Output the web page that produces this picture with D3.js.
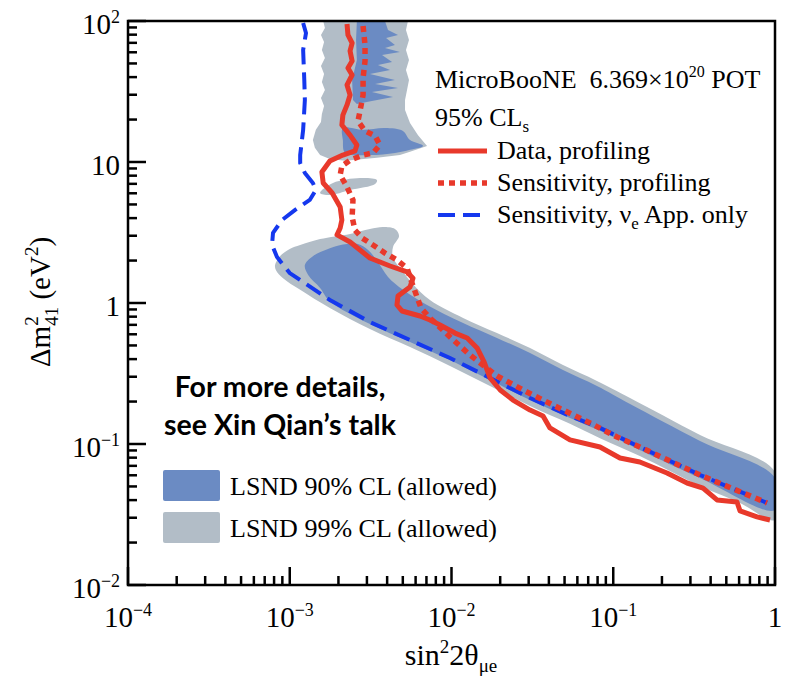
<!DOCTYPE html>
<html>
<head>
<meta charset="utf-8">
<script src="https://cdn.jsdelivr.net/npm/d3@7"></script>
<style>
  body { margin: 0; background: #fff; }
  svg text { font-family: "Liberation Serif", "Times New Roman", serif; fill: #000; }
</style>
</head>
<body>
<svg id="chart" width="790" height="678"></svg>
<script>
// Contours as [sin²2θμe, Δm²41 (eV²)]

// LSND 99% CL allowed region: main band, high-Δm² column and small island
const lsnd99Band = [
  [8.11e-4, 1.86], [8.71e-4, 2.15], [1.00e-3, 2.42], [1.16e-3, 2.58], [1.54e-3, 2.84],
  [2.36e-3, 3.09], [3.13e-3, 3.35], [3.77e-3, 3.46], [4.47e-3, 3.35], [4.74e-3, 2.99],
  [4.35e-3, 2.50], [4.35e-3, 2.09], [4.94e-3, 1.71], [5.78e-3, 1.36], [7.36e-3, 1.05],
  [1.18e-2, 0.783], [1.91e-2, 0.612], [3.06e-2, 0.480], [4.89e-2, 0.363], [7.93e-2, 0.280],
  [0.127, 0.212], [0.344, 0.116], [1.0, 0.0633],
  [1.0, 0.0289], [0.608, 0.0382], [0.344, 0.0504], [0.146, 0.0822], [8.28e-2, 0.110],
  [5.40e-2, 0.139], [3.06e-2, 0.186], [1.73e-2, 0.258], [9.79e-3, 0.358], [5.54e-3, 0.487],
  [3.13e-3, 0.654], [1.77e-3, 0.921], [1.16e-3, 1.24], [9.09e-4, 1.50], [8.22e-4, 1.71]
];
const lsnd99Top = [
  [1.61e-3, 100], [1.65e-3, 89.2], [1.56e-3, 79.6], [1.63e-3, 71.0], [1.58e-3, 62.3],
  [1.65e-3, 54.7], [1.56e-3, 48.0], [1.63e-3, 42.1], [1.58e-3, 36.9], [1.65e-3, 32.4],
  [1.56e-3, 28.4], [1.63e-3, 25.0], [1.58e-3, 21.9], [1.56e-3, 19.2], [1.45e-3, 16.9],
  [1.39e-3, 14.3], [1.43e-3, 12.6], [1.54e-3, 11.2], [1.77e-3, 10.5], [2.20e-3, 10.2],
  [3.46e-3, 10.7], [4.80e-3, 11.2], [5.54e-3, 11.8], [7.06e-3, 13.0], [6.21e-3, 15.5],
  [5.54e-3, 18.9], [5.16e-3, 23.4], [5.16e-3, 27.5], [5.31e-3, 32.4], [5.46e-3, 38.2],
  [5.23e-3, 44.9], [5.46e-3, 52.9], [5.23e-3, 62.3], [5.46e-3, 73.3], [5.23e-3, 86.3],
  [5.38e-3, 100]
];
const lsnd99Island = [
  [1.54e-3, 6.03], [1.85e-3, 7.10], [2.72e-3, 7.70], [3.46e-3, 7.45],
  [3.37e-3, 6.98], [2.36e-3, 6.33], [1.77e-3, 5.83]
];

// LSND 90% CL allowed region: main band, striped column and lobe near 10–17 eV²
const lsnd90Band = [
  [1.24e-3, 1.86], [1.39e-3, 2.15], [1.77e-3, 2.45], [2.26e-3, 2.62], [2.64e-3, 2.62],
  [3.05e-3, 2.38], [3.51e-3, 1.95], [4.05e-3, 1.53], [5.01e-3, 1.24], [7.06e-3, 0.968],
  [1.18e-2, 0.721], [1.91e-2, 0.565], [3.06e-2, 0.442], [4.89e-2, 0.335], [7.93e-2, 0.258],
  [0.127, 0.192], [0.344, 0.105], [1.0, 0.0574],
  [1.0, 0.0340], [0.344, 0.0574], [0.146, 0.0907], [8.28e-2, 0.124], [5.40e-2, 0.153],
  [3.06e-2, 0.205], [1.73e-2, 0.284], [9.79e-3, 0.394], [5.54e-3, 0.529], [3.13e-3, 0.710],
  [1.77e-3, 1.03], [1.54e-3, 1.28], [1.30e-3, 1.58]
];
const lsnd90Column = [
  [2.60e-3, 100], [2.57e-3, 73.3], [2.60e-3, 52.9], [2.43e-3, 38.2], [2.46e-3, 27.5],
  [2.60e-3, 25.8], [3.22e-3, 27.1], [4.35e-3, 28.9], [3.22e-3, 31.4], [4.67e-3, 33.5],
  [3.37e-3, 35.7], [4.47e-3, 38.2], [3.13e-3, 42.1], [4.17e-3, 44.9], [3.51e-3, 48.7],
  [4.29e-3, 51.2], [3.72e-3, 57.4], [4.80e-3, 60.3], [3.88e-3, 64.4], [4.47e-3, 67.6],
  [3.94e-3, 75.8], [4.67e-3, 79.6], [4.05e-3, 86.3], [3.88e-3, 100]
];
const lsnd90Lobe = [
  [2.13e-3, 17.4], [2.84e-3, 16.9], [3.88e-3, 17.4], [5.01e-3, 16.6], [5.54e-3, 14.3],
  [6.67e-3, 13.0], [5.54e-3, 12.2], [4.47e-3, 11.6], [3.13e-3, 11.2], [2.20e-3, 11.6],
  [2.13e-3, 14.3]
];

// MicroBooNE 95% CLs: data with profiling
const dataProfiling = [
  [2.26e-3, 95.2], [2.29e-3, 79.6], [2.43e-3, 69.8], [2.36e-3, 61.3], [2.43e-3, 52.0],
  [2.29e-3, 46.4], [2.43e-3, 41.4], [2.26e-3, 35.2], [2.36e-3, 29.9], [2.26e-3, 25.4],
  [2.13e-3, 21.5], [2.10e-3, 18.3], [2.36e-3, 15.5], [2.60e-3, 13.2], [2.53e-3, 11.97],
  [2.13e-3, 11.2], [1.77e-3, 10.16], [1.58e-3, 8.49], [1.61e-3, 7.10], [1.83e-3, 6.03],
  [2.05e-3, 4.80], [2.10e-3, 3.88], [2.05e-3, 3.40], [1.96e-3, 3.04], [2.36e-3, 2.71],
  [3.13e-3, 2.085], [4.17e-3, 1.83], [5.31e-3, 1.66], [5.78e-3, 1.50], [5.54e-3, 1.30],
  [4.67e-3, 1.12], [4.60e-3, 0.968], [4.94e-3, 0.878], [6.39e-3, 0.809], [7.36e-3, 0.758],
  [8.49e-3, 0.698], [1.05e-2, 0.612], [1.25e-2, 0.565], [1.44e-2, 0.480], [1.59e-2, 0.382],
  [1.73e-2, 0.294], [2.00e-2, 0.2415], [2.40e-2, 0.205], [3.06e-2, 0.174], [3.68e-2, 0.158],
  [4.06e-2, 0.130], [5.40e-2, 0.107], [8.28e-2, 0.0952], [0.110, 0.0796], [0.146, 0.0745],
  [0.215, 0.0623], [0.286, 0.0529], [0.359, 0.0487], [0.438, 0.0401], [0.582, 0.0388],
  [0.608, 0.0335], [0.774, 0.0304], [0.931, 0.0289]
];

// Sensitivity with profiling
const sensProfiling = [
  [2.84e-3, 92.1], [2.92e-3, 67.6], [2.92e-3, 52.0], [2.84e-3, 39.4], [2.84e-3, 29.9],
  [2.72e-3, 23.0], [2.64e-3, 19.5], [2.92e-3, 16.6], [3.37e-3, 15.3], [3.61e-3, 13.2],
  [3.27e-3, 11.6], [2.84e-3, 11.2], [2.36e-3, 10.3], [2.10e-3, 9.37], [2.05e-3, 8.09],
  [2.26e-3, 6.65], [2.46e-3, 5.38], [2.43e-3, 4.07], [2.53e-3, 3.29], [2.80e-3, 2.89],
  [3.27e-3, 2.58], [3.88e-3, 2.26], [4.60e-3, 2.02], [5.31e-3, 1.77], [5.70e-3, 1.386],
  [6.12e-3, 1.103], [6.48e-3, 0.921], [7.36e-3, 0.783], [9.79e-3, 0.574], [1.30e-2, 0.428],
  [1.91e-2, 0.3036], [2.93e-2, 0.2338], [4.49e-2, 0.183], [7.18e-2, 0.1409], [0.1055, 0.1121],
  [0.146, 0.0952], [0.344, 0.0603], [0.892, 0.0382]
];

// Sensitivity, νe appearance only
const sensAppOnly = [
  [1.21e-3, 96.8], [1.26e-3, 82.2], [1.21e-3, 62.3], [1.23e-3, 38.2], [1.24e-3, 27.5],
  [1.21e-3, 16.9], [1.16e-3, 11.2], [1.16e-3, 9.84], [1.24e-3, 8.36], [1.39e-3, 7.10],
  [1.45e-3, 6.33], [1.33e-3, 5.38], [1.08e-3, 4.57], [8.96e-4, 3.88], [7.88e-4, 3.14],
  [7.77e-4, 2.58], [8.34e-4, 2.12], [1.00e-3, 1.63], [1.77e-3, 1.05], [3.13e-3, 0.733],
  [5.54e-3, 0.546], [9.79e-3, 0.407], [1.73e-2, 0.294], [3.06e-2, 0.212], [5.40e-2, 0.158],
  [8.28e-2, 0.130], [0.146, 0.0952], [0.344, 0.0603], [0.892, 0.0382]
];

// Axis ticks: decade values with "10" + exponent labels
const xTickValues = [1e-4, 1e-3, 1e-2, 1e-1, 1];
const xTickExps = ["−4", "−3", "−2", "−1", null];
const yTickValues = [1e-2, 1e-1, 1, 10, 100];
const yTickExps = ["−2", "−1", null, "", "2"];

const COL = {
  grey: "#b2bdc7",
  blue: "#6b8bc3",
  red: "#e8392b",
  dash: "#1538ee"
};

const svg = d3.select("#chart");
const margin = { left: 128, top: 21, right: 775, bottom: 585 };

const x = d3.scaleLog().domain([1e-4, 1]).range([margin.left, margin.right]);
const y = d3.scaleLog().domain([1e-2, 1e2]).range([margin.bottom, margin.top]);

svg.append("defs").append("clipPath").attr("id", "plotClip")
  .append("rect")
  .attr("x", margin.left).attr("y", margin.top)
  .attr("width", margin.right - margin.left).attr("height", margin.bottom - margin.top);

const plot = svg.append("g").attr("clip-path", "url(#plotClip)");

const areaSmooth = d3.line().x(d => x(d[0])).y(d => y(d[1])).curve(d3.curveCatmullRomClosed.alpha(0.5));
const areaJagged = d3.line().x(d => x(d[0])).y(d => y(d[1])).curve(d3.curveLinearClosed);
const path = d3.line().x(d => x(d[0])).y(d => y(d[1]));

// LSND regions
plot.append("path").attr("d", areaSmooth(lsnd99Band)).attr("fill", COL.grey);
plot.append("path").attr("d", areaJagged(lsnd99Top)).attr("fill", COL.grey);
plot.append("path").attr("d", areaSmooth(lsnd99Island)).attr("fill", COL.grey);
plot.append("path").attr("d", areaSmooth(lsnd90Band)).attr("fill", COL.blue);
plot.append("path").attr("d", areaJagged(lsnd90Column)).attr("fill", COL.blue);
plot.append("path").attr("d", areaSmooth(lsnd90Lobe)).attr("fill", COL.blue);

// MicroBooNE contours
plot.append("path").attr("d", path(sensAppOnly))
  .attr("fill", "none").attr("stroke", COL.dash).attr("stroke-width", 4)
  .attr("stroke-dasharray", "17,8");
plot.append("path").attr("d", path(sensProfiling))
  .attr("fill", "none").attr("stroke", COL.red).attr("stroke-width", 5.5)
  .attr("stroke-dasharray", "6,5");
plot.append("path").attr("d", path(dataProfiling))
  .attr("fill", "none").attr("stroke", COL.red).attr("stroke-width", 5)
  .attr("stroke-linejoin", "round");

// Axes: inward ticks on the left and bottom only
const minor = [];
for (let e = -4; e < 0; e++) for (let k = 2; k <= 9; k++) minor.push(k * Math.pow(10, e));
const minorY = [];
for (let e = -2; e < 2; e++) for (let k = 2; k <= 9; k++) minorY.push(k * Math.pow(10, e));

const axes = svg.append("g").attr("stroke", "#000").attr("stroke-width", 2.5);
axes.selectAll(".xmaj").data(xTickValues).join("line")
  .attr("x1", d => x(d)).attr("x2", d => x(d))
  .attr("y1", margin.bottom).attr("y2", margin.bottom - 18);
axes.selectAll(".xmin").data(minor).join("line")
  .attr("x1", d => x(d)).attr("x2", d => x(d))
  .attr("y1", margin.bottom).attr("y2", margin.bottom - 9);
axes.selectAll(".ymaj").data(yTickValues).join("line")
  .attr("y1", d => y(d)).attr("y2", d => y(d))
  .attr("x1", margin.left).attr("x2", margin.left + 18);
axes.selectAll(".ymin").data(minorY).join("line")
  .attr("y1", d => y(d)).attr("y2", d => y(d))
  .attr("x1", margin.left).attr("x2", margin.left + 9);

svg.append("rect")
  .attr("x", margin.left).attr("y", margin.top)
  .attr("width", margin.right - margin.left).attr("height", margin.bottom - margin.top)
  .attr("fill", "none").attr("stroke", "#000").attr("stroke-width", 2.5);

function powerLabel(t, exp) {
  if (exp === null) { t.text("1"); return; }
  t.append("tspan").text("10");
  if (exp) t.append("tspan").attr("font-size", "0.62em").attr("dy", "-0.62em").text(exp);
}

xTickValues.forEach((v, i) => {
  const t = svg.append("text")
    .attr("x", x(v)).attr("y", margin.bottom + 42)
    .attr("text-anchor", "middle").attr("font-size", 29);
  powerLabel(t, xTickExps[i]);
});
yTickValues.forEach((v, i) => {
  const t = svg.append("text")
    .attr("x", 120).attr("y", y(v) + 13)
    .attr("text-anchor", "end").attr("font-size", 29);
  powerLabel(t, yTickExps[i]);
});

// Axis titles
const xt = svg.append("text").attr("x", 451).attr("y", 665)
  .attr("text-anchor", "middle").attr("font-size", 30);
xt.append("tspan").text("sin");
xt.append("tspan").attr("font-size", 19).attr("dy", -12).text("2");
xt.append("tspan").attr("dy", 12).text("2θ");
xt.append("tspan").attr("font-size", 19).attr("dy", 7).text("μe");

const yt = svg.append("text")
  .attr("transform", "translate(50,302) rotate(-90)")
  .attr("text-anchor", "middle").attr("font-size", 29);
yt.append("tspan").text("Δm");
yt.append("tspan").attr("font-size", 19).attr("dy", -12).text("2");
yt.append("tspan").attr("font-size", 19).attr("dx", -9.5).attr("dy", 20).text("41");
yt.append("tspan").attr("dy", -8).text("\u00a0(eV");
yt.append("tspan").attr("font-size", 19).attr("dy", -12).text("2");
yt.append("tspan").attr("dy", 12).text(")");

// Legend: experiment and curves
const lg = svg.append("g").attr("font-size", 26);
const l1 = lg.append("text").attr("x", 435).attr("y", 88);
l1.append("tspan").text("MicroBooNE\u00a0 6.369×10");
l1.append("tspan").attr("font-size", 16).attr("dy", -11).text("20");
l1.append("tspan").attr("dy", 11).text("\u00a0POT");
const l2 = lg.append("text").attr("x", 435).attr("y", 126);
l2.append("tspan").text("95% CL");
l2.append("tspan").attr("font-size", 17).attr("dy", 6).text("s");

const curveLegend = [
  { label: ["Data, profiling"], color: COL.red, width: 5, dash: null, y: 159 },
  { label: ["Sensitivity, profiling"], color: COL.red, width: 5.5, dash: "6,5", y: 191 },
  { label: ["Sensitivity, ν", "e", " App. only"], color: COL.dash, width: 4, dash: "17,8", y: 223 }
];
curveLegend.forEach(d => {
  lg.append("line").attr("x1", 438).attr("x2", 487)
    .attr("y1", d.y - 8).attr("y2", d.y - 8)
    .attr("stroke", d.color).attr("stroke-width", d.width)
    .attr("stroke-dasharray", d.dash);
  const t = lg.append("text").attr("x", 497).attr("y", d.y);
  t.append("tspan").text(d.label[0]);
  if (d.label.length > 1) {
    t.append("tspan").attr("font-size", 17).attr("dy", 6).text(d.label[1]);
    t.append("tspan").attr("dy", -6).text(d.label[2]);
  }
});

// Talk note
const note = svg.append("g")
  .attr("font-weight", 700).attr("font-size", 28.5).attr("text-anchor", "middle");
note.append("text").attr("x", 280).attr("y", 397).style("font-family", "Lato, 'Open Sans', sans-serif").text("For more details,");
note.append("text").attr("x", 280).attr("y", 435).style("font-family", "Lato, 'Open Sans', sans-serif").text("see Xin Qian’s talk");

// LSND legend
const lsndLegend = [
  { label: "LSND 90% CL (allowed)", color: COL.blue, y: 470 },
  { label: "LSND 99% CL (allowed)", color: COL.grey, y: 512 }
];
lsndLegend.forEach(d => {
  svg.append("rect").attr("x", 163).attr("y", d.y).attr("width", 57).attr("height", 31)
    .attr("rx", 2).attr("fill", d.color);
  svg.append("text").attr("x", 230).attr("y", d.y + 25).attr("font-size", 26).text(d.label);
});
</script>
</body>
</html>
